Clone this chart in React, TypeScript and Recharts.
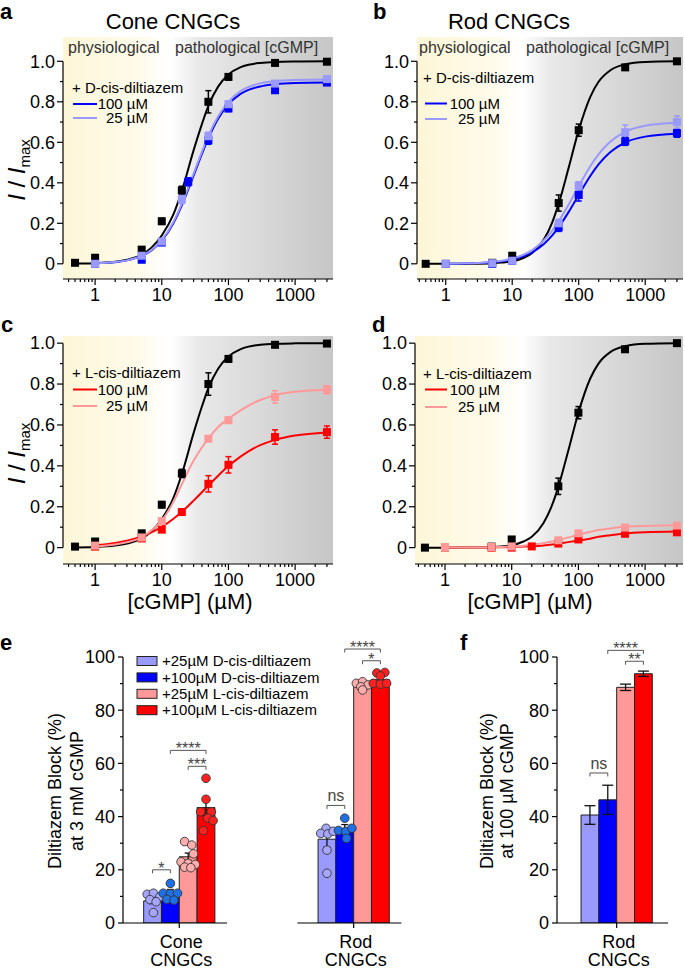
import React from "react";
import {
  ComposedChart, Line, Scatter, Bar, Cell, XAxis, YAxis, ErrorBar,
  ReferenceArea, ReferenceLine, Legend,
} from "recharts";

const FONT = "'Liberation Sans', Arial, Helvetica, sans-serif";

const BLACK = "#000000";
const BLUE = "#0000ff";
const LIGHT_BLUE = "#9999ff";
const RED = "#ff0000";
const LIGHT_RED = "#ff9999";

// ---------- dose-response: fitted curves ----------
const FIT_X_HALF = [0.5, 1, 2, 3, 5, 7, 10, 15, 20, 30, 40, 50, 70, 100, 150, 200, 300, 500, 1000, 3000];
const FIT_X_ONE = [1, 2, 3, 5, 7, 10, 15, 20, 30, 40, 50, 70, 100, 150, 200, 300, 500, 1000, 3000];

const CONE_CTRL_FIT = [0.001, 0.003, 0.01, 0.02, 0.045, 0.08, 0.14, 0.245, 0.36, 0.56, 0.69, 0.78, 0.875, 0.935, 0.97, 0.983, 0.992, 0.997, 0.999, 1.0];
const CONE_D100_FIT = [0.003, 0.008, 0.017, 0.039, 0.066, 0.114, 0.202, 0.289, 0.435, 0.543, 0.62, 0.716, 0.787, 0.838, 0.859, 0.876, 0.887, 0.893, 0.895];
const CONE_D25_FIT = [0.003, 0.009, 0.017, 0.04, 0.068, 0.118, 0.208, 0.297, 0.445, 0.553, 0.632, 0.728, 0.8, 0.852, 0.873, 0.891, 0.902, 0.908, 0.91];
const CONE_L100_FIT = [0.011, 0.023, 0.034, 0.055, 0.075, 0.102, 0.141, 0.175, 0.23, 0.271, 0.304, 0.352, 0.399, 0.444, 0.471, 0.501, 0.527, 0.548, 0.563];
const CONE_L25_FIT = [0.005, 0.015, 0.026, 0.05, 0.085, 0.132, 0.225, 0.31, 0.425, 0.49, 0.533, 0.59, 0.63, 0.67, 0.695, 0.722, 0.746, 0.762, 0.772];

const ROD_CTRL_FIT = [0, 0, 0.0004, 0.0009, 0.003, 0.006, 0.012, 0.03, 0.053, 0.121, 0.205, 0.297, 0.47, 0.66, 0.826, 0.9, 0.956, 0.985, 0.997, 1.0];
const ROD_D100_FIT = [0.0007, 0.002, 0.004, 0.0075, 0.012, 0.021, 0.038, 0.057, 0.098, 0.14, 0.181, 0.254, 0.34, 0.435, 0.492, 0.552, 0.599, 0.628, 0.642];
const ROD_D25_FIT = [0.0008, 0.0024, 0.0044, 0.0094, 0.0155, 0.026, 0.046, 0.068, 0.116, 0.164, 0.21, 0.29, 0.383, 0.483, 0.542, 0.604, 0.652, 0.682, 0.696];
const ROD_L100_FIT = [0.0002, 0.0005, 0.0008, 0.0013, 0.002, 0.003, 0.005, 0.007, 0.011, 0.015, 0.019, 0.027, 0.035, 0.044, 0.053, 0.061, 0.069, 0.075, 0.079];
const ROD_L25_FIT = [0.0002, 0.0007, 0.0012, 0.0024, 0.0037, 0.0057, 0.0095, 0.0138, 0.022, 0.03, 0.0375, 0.05, 0.0635, 0.077, 0.086, 0.094, 0.102, 0.106, 0.109];

// ---------- dose-response: measured points (mean, SEM) ----------
const CONE_CTRL_X = [0.5, 1, 5, 10, 20, 50, 100, 500, 3000];
const CONE_CTRL_Y = [0.005, 0.03, 0.07, 0.21, 0.363, 0.8, 0.923, 0.992, 0.998];
const CONE_CTRL_ERR = [0.005, 0.01, 0.01, 0.015, 0.02, 0.055, 0.015, 0.008, 0.005];

const CONE_D100_X = [1, 5, 10, 25, 50, 100, 500, 3000];
const CONE_D100_Y = [0.0, 0.02, 0.105, 0.405, 0.61, 0.767, 0.857, 0.895];
const CONE_D100_ERR = [0.005, 0.01, 0.01, 0.02, 0.02, 0.015, 0.01, 0.01];

const CONE_D25_X = [1, 5, 10, 20, 50, 100, 500, 3000];
const CONE_D25_Y = [0.0, 0.04, 0.11, 0.318, 0.63, 0.788, 0.89, 0.912];
const CONE_D25_ERR = [0.005, 0.01, 0.01, 0.02, 0.02, 0.015, 0.01, 0.01];

const CONE_L100_X = [1, 5, 10, 20, 50, 100, 500, 3000];
const CONE_L100_Y = [0.005, 0.045, 0.088, 0.174, 0.312, 0.405, 0.541, 0.565];
const CONE_L100_ERR = [0, 0.005, 0.01, 0.015, 0.04, 0.04, 0.035, 0.03];

const CONE_L25_X = [1, 5, 10, 50, 100, 500, 3000];
const CONE_L25_Y = [0.01, 0.05, 0.13, 0.533, 0.623, 0.737, 0.772];
const CONE_L25_ERR = [0, 0.005, 0.01, 0.01, 0.015, 0.03, 0.02];

const ROD_CTRL_X = [0.5, 5, 10, 50, 100, 500, 3000];
const ROD_CTRL_Y = [0.0, 0.005, 0.04, 0.3, 0.66, 0.97, 1.0];
const ROD_CTRL_ERR = [0, 0.005, 0.01, 0.04, 0.03, 0.01, 0.005];

const ROD_D100_X = [1, 5, 10, 50, 100, 500, 3000];
const ROD_D100_Y = [0, 0.0, 0.015, 0.18, 0.34, 0.605, 0.645];
const ROD_D100_ERR = [0, 0, 0.005, 0.02, 0.03, 0.02, 0.02];

const ROD_D25_X = [1, 5, 10, 50, 100, 500, 3000];
const ROD_D25_Y = [0, 0.003, 0.015, 0.2, 0.385, 0.65, 0.7];
const ROD_D25_ERR = [0, 0, 0.005, 0.02, 0.02, 0.035, 0.03];

const ROD_L100_X = [1, 5, 10, 20, 50, 100, 500, 3000];
const ROD_L100_Y = [0, 0, 0.0, 0.006, 0.02, 0.04, 0.068, 0.075];
const ROD_L100_ERR = [0, 0, 0, 0.003, 0.005, 0.008, 0.01, 0.01];

const ROD_L25_X = [1, 5, 10, 50, 100, 500, 3000];
const ROD_L25_Y = [0, 0.003, 0.006, 0.036, 0.07, 0.098, 0.108];
const ROD_L25_ERR = [0, 0, 0, 0.005, 0.01, 0.01, 0.01];

// ---------- block bar charts ----------
const BAR_LABELS = ["+25µM D-cis-diltiazem", "+100µM D-cis-diltiazem", "+25µM L-cis-diltiazem", "+100µM L-cis-diltiazem"];
const BAR_COLORS = [LIGHT_BLUE, BLUE, LIGHT_RED, RED];
const DOT_COLORS = ["#a6a6ff", "#1f6fe5", "#ffadad", "#ff2020"];

const CONE_BLOCK = [8.3, 11.8, 24.9, 43.4];
const CONE_SEM = [1.0, 0.8, 1.4, 3.0];
const ROD_BLOCK = [31.5, 35.6, 89.5, 91.5];
const ROD_SEM = [3.0, 1.4, 0.5, 0.9];
const ROD100_BLOCK = [40.6, 46.3, 88.6, 93.7];
const ROD100_SEM = [3.5, 5.5, 1.2, 1.0];

const CONE_DOTS = [
  [10.8, 11.2, 9.8, 8.8, 8.0, 3.9],
  [14.9, 11.2, 11.0, 11.2, 8.9, 8.6],
  [30.6, 29.3, 26.0, 23.0, 22.4, 22.0, 21.0, 20.8],
  [54.4, 46.5, 41.8, 41.8, 39.4, 38.5, 34.7],
];
const CONE_JITTER = [
  [-0.3, 0.05, 0.4, -0.15, 0.2, 0.05],
  [0, -0.4, 0, 0.4, -0.2, 0.2],
  [-0.2, 0.2, 0.3, -0.4, 0, 0.4, -0.2, 0.15],
  [0, 0, -0.3, 0.3, 0.1, 0.4, -0.15],
];
const ROD_DOTS = [
  [35.6, 33.7, 33.5, 34.5, 27.4, 18.7],
  [39.4, 34.8, 34.4, 35.6, 31.8],
  [90.1, 90.7, 89.5, 88.8, 87.6],
  [94.0, 94.2, 92.9, 90.1, 89.8, 90.1],
];
const ROD_JITTER = [
  [-0.05, -0.35, 0.05, 0.35, 0, 0],
  [0, -0.35, 0.05, 0.4, 0.1],
  [-0.35, 0, 0.3, -0.1, 0],
  [-0.2, 0.25, 0, -0.4, 0, 0.35],
];

// significance brackets: bar index from/to (1-based), height in %, label
const CONE_SIG = [
  { from: 1, to: 2, y: 20.0, label: "*" },
  { from: 3, to: 4, y: 58.9, label: "***" },
  { from: 2, to: 4, y: 64.9, label: "****" },
];
const ROD_SIG = [
  { from: 1, to: 2, y: 44.2, label: "ns" },
  { from: 3, to: 4, y: 98.6, label: "*" },
  { from: 2, to: 4, y: 103, label: "****" },
];
const ROD100_SIG = [
  { from: 1, to: 2, y: 56.4, label: "ns" },
  { from: 3, to: 4, y: 98.4, label: "**" },
  { from: 2, to: 4, y: 102.5, label: "****" },
];

const LOG_MAJOR = [1, 10, 100, 1000];
const LOG_TICKS = [0.4, 0.5, 0.6, 0.7, 0.8, 0.9, 1, 2, 3, 4, 5, 6, 7, 8, 9, 10, 20, 30, 40, 50, 60, 70, 80, 90,
  100, 200, 300, 400, 500, 600, 700, 800, 900, 1000, 2000, 3000];
const I_TICKS = [0, 0.1, 0.2, 0.3, 0.4, 0.5, 0.6, 0.7, 0.8, 0.9, 1.0];
const BLOCK_TICKS = [0, 10, 20, 30, 40, 50, 60, 70, 80, 90, 100];

const toRows = (xs: number[], ys: number[], errs?: number[]) =>
  xs.map((x, i) => ({ x, y: ys[i], err: errs ? errs[i] : 0 }));

// ---------- ticks ----------
const XLogTick = (props: any) => {
  const { x, y, payload } = props;
  const v = payload.value;
  const major = LOG_MAJOR.includes(v);
  const ay = y - 6 - 2;
  return (
    <g>
      <line x1={x} x2={x} y1={ay} y2={ay + (major ? 6 : 3)} stroke="#000" strokeWidth={1.2} />
      {major && (
        <text x={x} y={ay + 21.5} textAnchor="middle" fontSize={18} fontFamily={FONT} fill="#000">{v}</text>
      )}
    </g>
  );
};

const YITick = (props: any) => {
  const { x, y, payload } = props;
  const v = payload.value;
  const major = Math.abs(v * 5 - Math.round(v * 5)) < 1e-6;
  const ax = x + 6 + 2;
  return (
    <g>
      <line x1={ax} x2={ax - (major ? 6 : 3)} y1={y} y2={y} stroke="#000" strokeWidth={1.2} />
      {major && (
        <text x={ax - 8} y={y} dy="0.35em" textAnchor="end" fontSize={18} fontFamily={FONT} fill="#000">
          {v === 0 ? "0" : v.toFixed(1)}
        </text>
      )}
    </g>
  );
};

const BlockYTick = (props: any) => {
  const { x, y, payload } = props;
  const v = payload.value;
  const major = v % 20 === 0;
  const ax = x + 5 + 3;
  return (
    <g>
      <line x1={ax} x2={ax - (major ? 5 : 3)} y1={y} y2={y} stroke="#000" strokeWidth={1.2} />
      {major && (
        <text x={ax - 8} y={y} dy="0.35em" textAnchor="end" fontSize={18} fontFamily={FONT} fill="#000">{v}</text>
      )}
    </g>
  );
};

const groupTick = (lines: string[]) => (props: any) => {
  const { x, y } = props;
  const ay = y - 5 - 2;
  return (
    <text textAnchor="middle" fontSize={18} fontFamily={FONT} fill="#000">
      <tspan x={x + 2} y={ay + 25}>{lines[0]}</tspan>
      <tspan x={x + 2} y={ay + 43}>{lines[1]}</tspan>
    </text>
  );
};

// ---------- marks ----------
const SquareMark = (props: any) => {
  const { cx, cy, fill } = props;
  if (cx == null || cy == null) return null;
  return <rect x={cx - 4} y={cy - 4} width={8} height={8} fill={fill} />;
};

const DotMark = (props: any) => {
  const { cx, cy, fill } = props;
  if (cx == null || cy == null) return null;
  return <circle cx={cx} cy={cy} r={4.3} fill={fill} stroke="#333" strokeWidth={0.9} />;
};

const Bracket = (props: any) => {
  const { x1, x2, y1, text } = props;
  const l = Math.min(x1, x2);
  const r = Math.max(x1, x2);
  const stars = text.includes("*");
  return (
    <g>
      <path d={`M${l},${y1 + 3.5}V${y1}H${r}V${y1 + 3.5}`} fill="none" stroke="#555" strokeWidth={1} />
      <text x={(l + r) / 2} y={stars ? y1 + 4 : y1 - 4} textAnchor="middle"
        fontSize={16} fontFamily={FONT} fill="#444">{text}</text>
    </g>
  );
};

// ---------- curve panels ----------
type Series = { color: string; fitX: number[]; fitY: number[]; x: number[]; y: number[]; err: number[] };

interface CurveCfg {
  id: string;
  left: number; top: number; width: number; height: number;
  margin: { top: number; right: number; left: number; bottom: number };
  xAxisHeight: number;
  xDomain: [number, number];
  yDomain: [number, number];
  series: Series[];
  legendTitle: string;
  legendItems: { label: string; color: string }[];
  legend: { x: number; header: number; rows: number[]; line: number[]; textEnd: number };
  yLabelAt?: [number, number];
  xLabelAt?: [number, number];
}

const CurveLegend = ({ cfg, ox, oy }: { cfg: CurveCfg; ox: number; oy: number }) => {
  const L = cfg.legend;
  return (
    <svg width={170} height={60} style={{ display: "block", overflow: "visible" }}>
      <text x={L.x - ox} y={L.header - oy} dy="0.35em" fontSize={15} fontFamily={FONT} fill="#000">{cfg.legendTitle}</text>
      {cfg.legendItems.map((it, i) => (
        <g key={it.label}>
          <line x1={L.line[0] - ox} x2={L.line[1] - ox} y1={L.rows[i] - oy} y2={L.rows[i] - oy} stroke={it.color} strokeWidth={2} />
          <text x={L.textEnd - ox} y={L.rows[i] - oy} dy="0.35em" textAnchor="end" fontSize={15} fontFamily={FONT} fill="#000">{it.label}</text>
        </g>
      ))}
    </svg>
  );
};

function CurvePanel({ cfg }: { cfg: CurveCfg }) {
  const ox = cfg.legend.x - 4;
  const oy = cfg.legend.header - 12;
  const yLabel = cfg.yLabelAt
    ? () => {
        const [cx, cy] = cfg.yLabelAt as [number, number];
        return (
          <text transform={`rotate(-90 ${cx} ${cy})`} x={cx} y={cy} dy="0.35em" textAnchor="middle"
            fontSize={24} fontFamily={FONT} fill="#000">
            <tspan fontStyle="italic">I</tspan>
            <tspan> / </tspan>
            <tspan fontStyle="italic">I</tspan>
            <tspan fontSize={15} dy={5}>max</tspan>
          </text>
        );
      }
    : undefined;
  const xLabel = cfg.xLabelAt
    ? () => {
        const [cx, cy] = cfg.xLabelAt as [number, number];
        return (
          <text x={cx} y={cy} dy="0.35em" textAnchor="middle" fontSize={22} fontFamily={FONT} fill="#000">[cGMP] (µM)</text>
        );
      }
    : undefined;

  return (
    <div style={{ position: "absolute", left: cfg.left, top: cfg.top, width: cfg.width, height: cfg.height }}>
      <ComposedChart width={cfg.width} height={cfg.height} margin={cfg.margin}>
        <defs>
          <linearGradient id={`shade-${cfg.id}`} x1="0" y1="0" x2="1" y2="0">
            <stop offset="0" stopColor="#fdf6d8" />
            <stop offset="0.28" stopColor="#fffbea" />
            <stop offset="0.4" stopColor="#ffffff" />
            <stop offset="0.5" stopColor="#e9e9e9" />
            <stop offset="1" stopColor="#c6c6c6" />
          </linearGradient>
        </defs>
        <XAxis type="number" dataKey="x" scale="log" domain={cfg.xDomain} allowDataOverflow
          ticks={LOG_TICKS} interval={0} tick={XLogTick} tickLine={false} tickSize={6} tickMargin={2}
          axisLine={{ stroke: "#000", strokeWidth: 1.2 }} height={cfg.xAxisHeight} label={xLabel} />
        <YAxis type="number" domain={cfg.yDomain} allowDataOverflow ticks={I_TICKS} interval={0}
          tick={YITick} tickLine={false} tickSize={6} tickMargin={2} axisLine={false} width={58} label={yLabel} />
        <ReferenceArea x1={cfg.xDomain[0]} x2={cfg.xDomain[1]} y1={cfg.yDomain[0]} y2={cfg.yDomain[1]}
          fill={`url(#shade-${cfg.id})`} fillOpacity={1} stroke="none" ifOverflow="hidden" />
        <ReferenceLine segment={[{ x: cfg.xDomain[0], y: 0 }, { x: cfg.xDomain[0], y: 1 }]}
          stroke="#000" strokeWidth={1.2} ifOverflow="visible" />
        {cfg.series.map((s, i) => (
          <Line key={`l${i}`} data={toRows(s.fitX, s.fitY)} dataKey="y" type="monotone" stroke={s.color}
            strokeWidth={2} dot={false} activeDot={false} isAnimationActive={false} />
        ))}
        {cfg.series.map((s, i) => (
          <Scatter key={`s${i}`} data={toRows(s.x, s.y, s.err)} dataKey="y" fill={s.color}
            shape={SquareMark} isAnimationActive={false}>
            <ErrorBar dataKey="err" direction="y" width={3} stroke={s.color} strokeWidth={1.5} />
          </Scatter>
        ))}
        <Legend layout="vertical" align="center" verticalAlign="middle"
          wrapperStyle={{ left: ox - cfg.left, top: oy - cfg.top, width: 170, height: 60 }}
          content={() => <CurveLegend cfg={cfg} ox={ox} oy={oy} />} />
      </ComposedChart>
    </div>
  );
}

const D_ITEMS = [{ label: "100 µM", color: BLUE }, { label: " 25 µM", color: LIGHT_BLUE }];
const L_ITEMS = [{ label: "100 µM", color: RED }, { label: " 25 µM", color: LIGHT_RED }];

const PANEL_A: CurveCfg = {
  id: "a", left: 0, top: 0, width: 340, height: 305,
  margin: { top: 37, right: 7, left: 5, bottom: 0 }, xAxisHeight: 26,
  xDomain: [0.33, 3700], yDomain: [-0.075, 1.12],
  series: [
    { color: BLACK, fitX: FIT_X_HALF, fitY: CONE_CTRL_FIT, x: CONE_CTRL_X, y: CONE_CTRL_Y, err: CONE_CTRL_ERR },
    { color: BLUE, fitX: FIT_X_ONE, fitY: CONE_D100_FIT, x: CONE_D100_X, y: CONE_D100_Y, err: CONE_D100_ERR },
    { color: LIGHT_BLUE, fitX: FIT_X_ONE, fitY: CONE_D25_FIT, x: CONE_D25_X, y: CONE_D25_Y, err: CONE_D25_ERR },
  ],
  legendTitle: "+ D-cis-diltiazem", legendItems: D_ITEMS,
  legend: { x: 72, header: 88, rows: [104, 118], line: [73, 97], textEnd: 148 },
  yLabelAt: [17, 170],
};

const PANEL_B: CurveCfg = {
  id: "b", left: 340, top: 0, width: 345, height: 305,
  margin: { top: 37, right: 2, left: 19, bottom: 0 }, xAxisHeight: 26,
  xDomain: [0.37, 3700], yDomain: [-0.075, 1.12],
  series: [
    { color: BLACK, fitX: FIT_X_HALF, fitY: ROD_CTRL_FIT, x: ROD_CTRL_X, y: ROD_CTRL_Y, err: ROD_CTRL_ERR },
    { color: BLUE, fitX: FIT_X_ONE, fitY: ROD_D100_FIT, x: ROD_D100_X, y: ROD_D100_Y, err: ROD_D100_ERR },
    { color: LIGHT_BLUE, fitX: FIT_X_ONE, fitY: ROD_D25_FIT, x: ROD_D25_X, y: ROD_D25_Y, err: ROD_D25_ERR },
  ],
  legendTitle: "+ D-cis-diltiazem", legendItems: D_ITEMS,
  legend: { x: 423, header: 78, rows: [103.5, 119], line: [425, 447], textEnd: 500 },
};

const PANEL_C: CurveCfg = {
  id: "c", left: 0, top: 300, width: 340, height: 320,
  margin: { top: 36, right: 7, left: 5, bottom: 0 }, xAxisHeight: 56,
  xDomain: [0.33, 3700], yDomain: [-0.08, 1.035],
  series: [
    { color: BLACK, fitX: FIT_X_HALF, fitY: CONE_CTRL_FIT, x: CONE_CTRL_X, y: CONE_CTRL_Y, err: CONE_CTRL_ERR },
    { color: RED, fitX: FIT_X_ONE, fitY: CONE_L100_FIT, x: CONE_L100_X, y: CONE_L100_Y, err: CONE_L100_ERR },
    { color: LIGHT_RED, fitX: FIT_X_ONE, fitY: CONE_L25_FIT, x: CONE_L25_X, y: CONE_L25_Y, err: CONE_L25_ERR },
  ],
  legendTitle: "+ L-cis-diltiazem", legendItems: L_ITEMS,
  legend: { x: 72, header: 373, rows: [389.5, 406], line: [73, 97], textEnd: 148 },
  yLabelAt: [17, 153.5],
  xLabelAt: [190, 301],
};

const PANEL_D: CurveCfg = {
  id: "d", left: 340, top: 300, width: 345, height: 320,
  margin: { top: 36, right: 2, left: 17, bottom: 0 }, xAxisHeight: 56,
  xDomain: [0.355, 3700], yDomain: [-0.08, 1.035],
  series: [
    { color: BLACK, fitX: FIT_X_HALF, fitY: ROD_CTRL_FIT, x: ROD_CTRL_X, y: ROD_CTRL_Y, err: ROD_CTRL_ERR },
    { color: RED, fitX: FIT_X_ONE, fitY: ROD_L100_FIT, x: ROD_L100_X, y: ROD_L100_Y, err: ROD_L100_ERR },
    { color: LIGHT_RED, fitX: FIT_X_ONE, fitY: ROD_L25_FIT, x: ROD_L25_X, y: ROD_L25_Y, err: ROD_L25_ERR },
  ],
  legendTitle: "+ L-cis-diltiazem", legendItems: L_ITEMS,
  legend: { x: 423, header: 373.5, rows: [389, 406.5], line: [425, 447], textEnd: 500 },
  xLabelAt: [190, 301],
};

// ---------- bar panels ----------
interface BlockCfg {
  left: number; top: number; width: number; height: number;
  margin: { top: number; right: number; left: number; bottom: number };
  yWidth: number;
  xDomain: [number, number];
  values: number[]; sems: number[];
  dots?: number[][]; jitter?: number[][];
  sig: { from: number; to: number; y: number; label: string }[];
  group: string[];
  cap: number;
  yLabel?: { lines: string[]; xs: number[]; cy: number };
  legend?: boolean;
}

const BarLegend = () => (
  <svg width={200} height={70} style={{ display: "block", overflow: "visible" }}>
    {BAR_LABELS.map((t, i) => {
      const cy = 9 + i * 16.4;
      return (
        <g key={t}>
          <rect x={2} y={cy - 4.5} width={20} height={9} fill={BAR_COLORS[i]} stroke="#222" strokeWidth={1} />
          <text x={27} y={cy} dy="0.35em" fontSize={15} fontFamily={FONT} fill="#000">{t}</text>
        </g>
      );
    })}
  </svg>
);

function BlockChart({ cfg }: { cfg: BlockCfg }) {
  const bars = cfg.values.map((v, i) => ({ x: i + 1, v, err: cfg.sems[i] }));
  const yl = cfg.yLabel;
  const yLabel = yl
    ? () => (
        <g>
          {yl.lines.map((t, i) => (
            <text key={t} transform={`rotate(-90 ${yl.xs[i]} ${yl.cy})`} x={yl.xs[i]} y={yl.cy} dy="0.35em"
              textAnchor="middle" fontSize={18} fontFamily={FONT} fill="#000">{t}</text>
          ))}
        </g>
      )
    : undefined;
  return (
    <div style={{ position: "absolute", left: cfg.left, top: cfg.top, width: cfg.width, height: cfg.height }}>
      <ComposedChart width={cfg.width} height={cfg.height} margin={cfg.margin} data={bars}>
        <XAxis type="number" dataKey="x" domain={cfg.xDomain} allowDataOverflow ticks={[2.5]} interval={0}
          tick={groupTick(cfg.group)} tickSize={5} tickMargin={2}
          tickLine={{ stroke: "#000", strokeWidth: 1.2 }} axisLine={{ stroke: "#000", strokeWidth: 1.2 }} height={45} />
        <XAxis xAxisId="dots" type="number" dataKey="x" domain={cfg.xDomain} allowDataOverflow hide />
        <YAxis type="number" domain={[0, 100]} allowDataOverflow ticks={BLOCK_TICKS} interval={0}
          hide={!yl} width={cfg.yWidth} tick={BlockYTick} tickLine={false} tickSize={5} tickMargin={3}
          axisLine={{ stroke: "#000", strokeWidth: 1.2 }} label={yLabel} />
        <Bar dataKey="v" barSize={17.8} stroke="#222" strokeWidth={1} isAnimationActive={false}>
          {bars.map((b, i) => <Cell key={i} fill={BAR_COLORS[i]} />)}
          <ErrorBar dataKey="err" direction="y" width={cfg.cap} stroke="#111" strokeWidth={1.3} />
        </Bar>
        {cfg.dots && cfg.dots.map((vals, i) => (
          <Scatter key={`d${i}`} xAxisId="dots"
            data={vals.map((v, j) => ({ x: i + 1 + (cfg.jitter as number[][])[i][j], v }))}
            dataKey="v" fill={DOT_COLORS[i]} shape={DotMark} isAnimationActive={false} />
        ))}
        {cfg.sig.map((s, i) => (
          <ReferenceLine key={`sig${i}`} segment={[{ x: s.from, y: s.y }, { x: s.to, y: s.y }]} ifOverflow="visible"
            shape={(p: any) => <Bracket {...p} text={s.label} />} />
        ))}
        {cfg.legend && (
          <Legend layout="vertical" align="center" verticalAlign="middle"
            wrapperStyle={{ left: 135, top: 32, width: 200, height: 70 }} content={() => <BarLegend />} />
        )}
      </ComposedChart>
    </div>
  );
}

const PANEL_E_CONE: BlockCfg = {
  left: 0, top: 620, width: 235, height: 349,
  margin: { top: 37, right: 8, left: 30, bottom: 1 }, yWidth: 93,
  xDomain: [-0.66, 5.18],
  values: CONE_BLOCK, sems: CONE_SEM, dots: CONE_DOTS, jitter: CONE_JITTER,
  sig: CONE_SIG, group: ["Cone", "CNGCs"], cap: 3.5,
  yLabel: { lines: ["Diltiazem Block (%)", "at 3 mM cGMP"], xs: [55, 77], cy: 171 },
  legend: true,
};

const PANEL_E_ROD: BlockCfg = {
  left: 290, top: 620, width: 120, height: 349,
  margin: { top: 37, right: 8.6, left: 7.4, bottom: 1 }, yWidth: 0,
  xDomain: [-0.66, 5.18],
  values: ROD_BLOCK, sems: ROD_SEM, dots: ROD_DOTS, jitter: ROD_JITTER,
  sig: ROD_SIG, group: ["Rod", "CNGCs"], cap: 3.5,
};

const PANEL_F: BlockCfg = {
  left: 460, top: 620, width: 225, height: 349,
  margin: { top: 37, right: 17, left: 15, bottom: 1 }, yWidth: 82,
  xDomain: [-0.85, 5.38],
  values: ROD100_BLOCK, sems: ROD100_SEM,
  sig: ROD100_SIG, group: ["Rod", "CNGCs"], cap: 5.5,
  yLabel: { lines: ["Diltiazem Block (%)", "at 100 µM cGMP"], xs: [27, 47], cy: 171 },
};

export default function App() {
  const letter = { fontSize: 22, fontWeight: 700, fontFamily: FONT, fill: "#000" } as const;
  const band = { fontSize: 16, fontFamily: FONT, fill: "#333" } as const;
  return (
    <div style={{ position: "absolute", left: 0, top: 0, width: 685, height: 969, background: "#fff", overflow: "hidden" }}>
      <CurvePanel cfg={PANEL_A} />
      <CurvePanel cfg={PANEL_B} />
      <CurvePanel cfg={PANEL_C} />
      <CurvePanel cfg={PANEL_D} />
      <BlockChart cfg={PANEL_E_CONE} />
      <BlockChart cfg={PANEL_E_ROD} />
      <BlockChart cfg={PANEL_F} />
      <svg width={685} height={969} style={{ position: "absolute", left: 0, top: 0, pointerEvents: "none" }}>
        <text x={0} y={19} {...letter}>a</text>
        <text x={373} y={19} {...letter}>b</text>
        <text x={1} y={332} {...letter}>c</text>
        <text x={372} y={332} {...letter}>d</text>
        <text x={0} y={650} {...letter}>e</text>
        <text x={460} y={650} {...letter}>f</text>
        <text x={173} y={28.5} textAnchor="middle" fontSize={22} fontFamily={FONT} fill="#000">Cone CNGCs</text>
        <text x={509} y={28.5} textAnchor="middle" fontSize={22} fontFamily={FONT} fill="#000">Rod CNGCs</text>
        <text x={68} y={53} {...band}>physiological</text>
        <text x={175} y={53} {...band}>pathological [cGMP]</text>
        <text x={419} y={53} {...band}>physiological</text>
        <text x={526} y={53} {...band}>pathological [cGMP]</text>
      </svg>
    </div>
  );
}
